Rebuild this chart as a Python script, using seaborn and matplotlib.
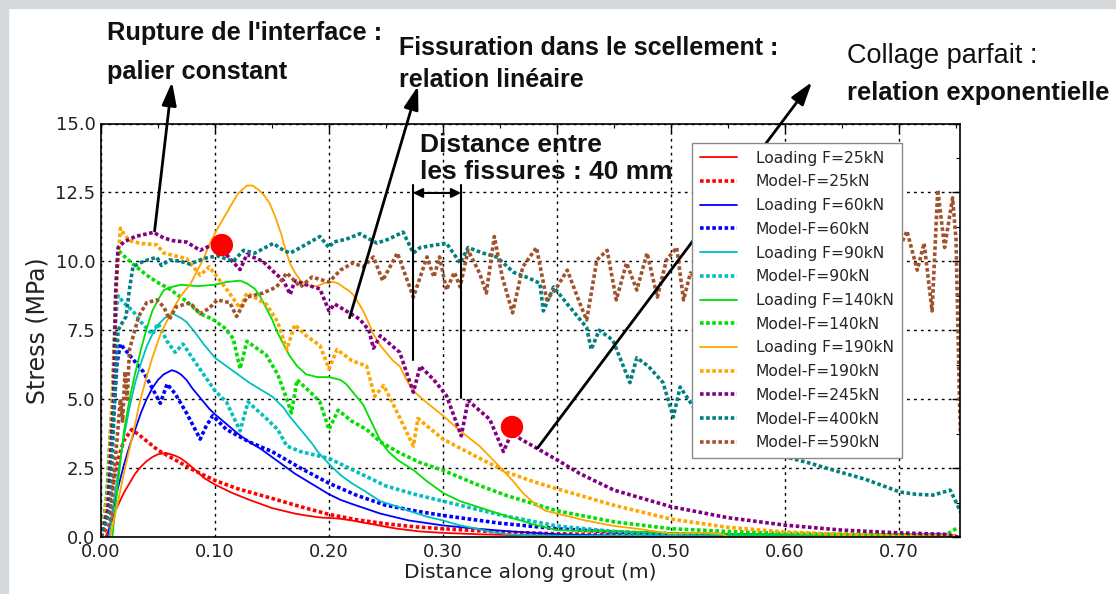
import matplotlib
matplotlib.use("Agg")
import matplotlib.pyplot as plt
import seaborn as sns
import numpy as np
import pandas as pd
from matplotlib.lines import Line2D
from matplotlib.patches import Rectangle
from matplotlib.ticker import MultipleLocator, AutoMinorLocator, FormatStrFormatter

# ---------------- data ----------------
x_L25 = [0.004, 0.008, 0.012, 0.02, 0.03, 0.035, 0.04, 0.045, 0.05, 0.057, 0.065, 0.07, 0.075, 0.085, 0.09, 0.1,
         0.11, 0.115, 0.13, 0.14, 0.15, 0.16, 0.17, 0.18, 0.19, 0.195, 0.205, 0.21, 0.22, 0.23, 0.24, 0.25, 0.26,
         0.28, 0.3, 0.33, 0.36, 0.4, 0.45, 0.5, 0.55, 0.6, 0.65, 0.7, 0.74, 0.752]
y_L25 = [0.0, 0.4, 0.9, 1.6, 2.3, 2.55, 2.75, 2.9, 3.0, 3.05, 2.95, 2.85, 2.7, 2.35, 2.15, 1.9,
         1.7, 1.6, 1.35, 1.2, 1.05, 0.95, 0.85, 0.78, 0.72, 0.7, 0.68, 0.66, 0.6, 0.52, 0.45, 0.37, 0.3,
         0.2, 0.15, 0.1, 0.07, 0.05, 0.04, 0.03, 0.02, 0.02, 0.03, 0.04, 0.05, 0.0]

x_M25 = [0.0, 0.005, 0.01, 0.015, 0.02, 0.027, 0.035, 0.05, 0.065, 0.08, 0.1, 0.12, 0.15, 0.175, 0.2, 0.225, 0.25,
         0.275, 0.3, 0.35, 0.4, 0.45, 0.5, 0.6, 0.7, 0.75]
y_M25 = [0.0, 0.8, 1.8, 2.8, 3.5, 3.9, 3.65, 3.15, 2.8, 2.45, 2.05, 1.75, 1.4, 1.1, 0.82, 0.62, 0.48,
         0.37, 0.3, 0.18, 0.12, 0.08, 0.06, 0.03, 0.02, 0.0]

x_L60 = [0.006, 0.01, 0.015, 0.02, 0.025, 0.03, 0.035, 0.04, 0.045, 0.05, 0.055, 0.062, 0.066, 0.07, 0.075, 0.08,
         0.085, 0.09, 0.095, 0.1, 0.11, 0.12, 0.13, 0.14, 0.15, 0.16, 0.17, 0.18, 0.19, 0.2, 0.21, 0.22,
         0.245, 0.27, 0.3, 0.33, 0.36, 0.4, 0.45, 0.5, 0.55, 0.6, 0.65, 0.7, 0.74, 0.752]
y_L60 = [0.0, 0.9, 1.8, 2.6, 3.3, 3.9, 4.5, 5.0, 5.4, 5.7, 5.9, 6.05, 6.0, 5.9, 5.7, 5.4,
         5.15, 4.9, 4.65, 4.45, 4.1, 3.75, 3.45, 3.2, 2.9, 2.6, 2.3, 2.05, 1.8, 1.55, 1.35, 1.2,
         0.85, 0.6, 0.42, 0.3, 0.2, 0.1, 0.05, 0.04, 0.03, 0.03, 0.04, 0.1, 0.1, 0.0]

x_M60 = [0.0, 0.005, 0.01, 0.014, 0.017, 0.025, 0.037, 0.045, 0.052, 0.058, 0.065, 0.075, 0.087, 0.092, 0.098, 0.11,
         0.13, 0.15, 0.175, 0.2, 0.225, 0.25, 0.275, 0.3, 0.35, 0.4, 0.45, 0.5, 0.55, 0.6, 0.7, 0.75]
y_M60 = [0.0, 1.0, 3.8, 6.3, 7.0, 6.6, 6.0, 5.4, 4.85, 5.55, 5.2, 4.5, 3.55, 4.0, 4.4, 3.9,
         3.45, 3.1, 2.5, 1.95, 1.5, 1.15, 0.95, 0.78, 0.5, 0.3, 0.18, 0.12, 0.08, 0.05, 0.05, 0.0]

x_L90 = [0.007, 0.012, 0.016, 0.02, 0.025, 0.03, 0.035, 0.04, 0.045, 0.05, 0.056, 0.063, 0.07, 0.075, 0.082, 0.09,
         0.095, 0.1, 0.11, 0.12, 0.13, 0.14, 0.15, 0.16, 0.165, 0.175, 0.185, 0.19, 0.2, 0.21, 0.22, 0.23, 0.245,
         0.26, 0.27, 0.285, 0.3, 0.315, 0.33, 0.34, 0.356, 0.38, 0.4, 0.45, 0.5, 0.6, 0.7, 0.75]
y_L90 = [0.0, 1.5, 2.6, 3.6, 4.7, 5.6, 6.3, 6.9, 7.35, 7.7, 7.95, 8.1, 7.95, 7.8, 7.45, 7.0,
         6.75, 6.5, 6.2, 5.9, 5.6, 5.35, 5.1, 4.7, 4.4, 3.9, 3.4, 3.1, 2.65, 2.25, 1.95, 1.7, 1.3,
         1.1, 0.95, 0.75, 0.6, 0.42, 0.3, 0.2, 0.1, 0.05, 0.05, 0.05, 0.05, 0.04, 0.05, 0.0]

x_M90 = [0.0, 0.005, 0.01, 0.013, 0.015, 0.02, 0.028, 0.035, 0.045, 0.05, 0.058, 0.065, 0.072, 0.08, 0.09, 0.1, 0.11,
         0.122, 0.129, 0.145, 0.155, 0.163, 0.175, 0.2, 0.225, 0.25, 0.275, 0.3, 0.33, 0.356, 0.4, 0.45, 0.5, 0.55,
         0.6, 0.7, 0.75]
y_M90 = [0.0, 1.2, 5.0, 8.0, 8.75, 8.5, 8.2, 7.8, 7.35, 7.75, 7.1, 6.7, 7.0, 6.5, 5.9, 5.3, 4.9,
         3.85, 4.9, 4.3, 3.9, 3.3, 3.1, 2.85, 2.35, 1.85, 1.55, 1.3, 1.0, 0.75, 0.4, 0.2, 0.08, 0.05,
         0.04, 0.04, 0.0]

x_L140 = [0.01, 0.015, 0.02, 0.025, 0.03, 0.035, 0.04, 0.045, 0.05, 0.055, 0.06, 0.07, 0.085, 0.1, 0.11, 0.122,
          0.128, 0.135, 0.14, 0.145, 0.15, 0.155, 0.16, 0.165, 0.172, 0.18, 0.19, 0.2, 0.21, 0.215, 0.22, 0.23,
          0.238, 0.245, 0.252, 0.26, 0.275, 0.285, 0.3, 0.315, 0.33, 0.345, 0.36, 0.38, 0.4, 0.45, 0.5, 0.55,
          0.6, 0.7, 0.75]
y_L140 = [0.0, 2.0, 3.8, 5.0, 5.95, 6.8, 7.55, 8.2, 8.6, 8.95, 9.05, 9.15, 9.1, 9.15, 9.25, 9.3,
          9.2, 9.0, 8.7, 8.3, 7.9, 7.4, 7.0, 6.6, 6.2, 5.9, 5.8, 5.8, 5.7, 5.55, 5.3, 4.8,
          4.1, 3.5, 3.1, 2.8, 2.4, 2.05, 1.6, 1.3, 1.1, 0.9, 0.7, 0.45, 0.25, 0.2, 0.15, 0.1,
          0.1, 0.1, 0.05]

x_M140 = [0.0, 0.005, 0.01, 0.013, 0.015, 0.02, 0.028, 0.04, 0.049, 0.06, 0.075, 0.087, 0.098, 0.108, 0.116, 0.122,
          0.128, 0.145, 0.155, 0.163, 0.167, 0.172, 0.185, 0.192, 0.2, 0.208, 0.22, 0.233, 0.245, 0.262, 0.28, 0.3,
          0.33, 0.356, 0.38, 0.4, 0.45, 0.5, 0.55, 0.6, 0.65, 0.7, 0.74, 0.752]
y_M140 = [0.0, 1.5, 5.0, 9.0, 10.4, 10.2, 9.9, 9.5, 9.25, 9.0, 8.55, 8.1, 7.9, 7.6, 7.2, 6.1,
          7.1, 6.6, 5.9, 5.0, 4.5, 5.7, 5.2, 4.9, 3.9, 4.6, 4.2, 3.9, 3.45, 3.05, 2.7, 2.42,
          1.9, 1.5, 1.2, 0.95, 0.55, 0.3, 0.2, 0.13, 0.1, 0.08, 0.05, 0.35]

x_L190 = [0.008, 0.015, 0.02, 0.025, 0.03, 0.034, 0.04, 0.045, 0.05, 0.053, 0.06, 0.065, 0.07, 0.078, 0.085, 0.09,
          0.095, 0.101, 0.108, 0.115, 0.12, 0.128, 0.133, 0.138, 0.143, 0.148, 0.153, 0.158, 0.162, 0.166, 0.17,
          0.175, 0.18, 0.185, 0.19, 0.195, 0.2, 0.204, 0.208, 0.213, 0.217, 0.221, 0.225, 0.23, 0.235, 0.239,
          0.245, 0.25, 0.256, 0.262, 0.268, 0.274, 0.285, 0.3, 0.315, 0.332, 0.345, 0.361, 0.37, 0.382, 0.39,
          0.4, 0.41, 0.425, 0.44, 0.45, 0.47, 0.5, 0.53, 0.545, 0.55, 0.6, 0.7, 0.75]
y_L190 = [0.0, 1.3, 2.3, 3.2, 4.1, 4.9, 5.8, 6.5, 7.1, 7.45, 8.0, 8.4, 8.75, 9.15, 9.7, 10.1,
          10.6, 11.1, 11.6, 12.1, 12.45, 12.75, 12.75, 12.6, 12.4, 12.1, 11.6, 11.0, 10.4, 9.9, 9.6,
          9.3, 9.15, 9.1, 9.1, 9.2, 9.25, 9.25, 9.2, 9.05, 8.95, 8.8, 8.55, 8.2, 7.75, 7.35,
          6.95, 6.7, 6.4, 6.2, 5.7, 5.3, 4.9, 4.4, 3.85, 3.3, 2.75, 2.05, 1.6, 1.15, 0.95,
          0.85, 0.75, 0.6, 0.48, 0.4, 0.3, 0.12, 0.15, 0.1, 0.0, 0.0, 0.0, 0.0]

x_M190 = [0.0, 0.006, 0.011, 0.014, 0.017, 0.02, 0.025, 0.035, 0.049, 0.055, 0.065, 0.075, 0.087, 0.095, 0.11, 0.122,
          0.128, 0.145, 0.155, 0.163, 0.17, 0.18, 0.192, 0.2, 0.207, 0.22, 0.233, 0.24, 0.248, 0.26, 0.274, 0.278,
          0.3, 0.33, 0.356, 0.38, 0.4, 0.45, 0.5, 0.55, 0.6, 0.65, 0.7, 0.75]
y_M190 = [0.0, 1.5, 6.0, 9.5, 11.2, 11.0, 10.75, 10.65, 10.6, 10.3, 10.2, 10.1, 9.5, 9.8, 9.0, 8.3,
          8.85, 8.45, 7.8, 6.8, 7.7, 7.3, 6.95, 6.1, 6.8, 6.4, 6.2, 5.1, 5.5, 4.5, 3.3, 4.3,
          3.55, 2.9, 2.35, 2.0, 1.75, 1.15, 0.65, 0.35, 0.18, 0.1, 0.06, 0.05]

x_M245 = [0.0, 0.006, 0.011, 0.013, 0.015, 0.02, 0.03, 0.046, 0.055, 0.063, 0.075, 0.087, 0.095, 0.105, 0.113, 0.122,
          0.128, 0.142, 0.152, 0.16, 0.166, 0.17, 0.18, 0.192, 0.2, 0.205, 0.215, 0.227, 0.235, 0.239, 0.245, 0.262,
          0.274, 0.28, 0.292, 0.303, 0.316, 0.322, 0.341, 0.353, 0.36, 0.383, 0.4, 0.42, 0.45, 0.5, 0.55, 0.6,
          0.65, 0.7, 0.74, 0.752]
y_M245 = [0.0, 1.0, 5.0, 9.0, 10.5, 10.7, 10.9, 11.05, 10.85, 10.75, 10.7, 10.4, 10.55, 10.5, 10.1, 9.7,
          10.25, 10.0, 9.6, 9.3, 8.8, 9.3, 9.15, 9.0, 8.2, 8.45, 8.2, 7.9, 7.5, 6.85, 7.3, 6.7,
          5.25, 6.2, 5.7, 5.13, 3.67, 4.95, 4.27, 3.1, 3.75, 3.2, 2.8, 2.3, 1.7, 1.1, 0.7, 0.43,
          0.25, 0.15, 0.1, 0.0]

x_M400 = [0.0, 0.008, 0.012, 0.015, 0.019, 0.022, 0.025, 0.028, 0.037, 0.049, 0.053, 0.06, 0.07, 0.078, 0.09, 0.102,
          0.116, 0.125, 0.135, 0.151, 0.16, 0.166, 0.175, 0.192, 0.2, 0.204, 0.215, 0.227, 0.242, 0.252, 0.265,
          0.274, 0.28, 0.303, 0.315, 0.322, 0.335, 0.347, 0.362, 0.375, 0.385, 0.388, 0.397, 0.41, 0.426, 0.43,
          0.437, 0.449, 0.464, 0.47, 0.48, 0.493, 0.502, 0.508, 0.52, 0.54, 0.56, 0.58, 0.604, 0.62, 0.642, 0.67,
          0.701, 0.715, 0.73, 0.745, 0.752, 0.754]
y_M400 = [0.0, 1.0, 5.0, 7.5, 7.8, 8.0, 9.0, 9.8, 10.0, 10.15, 9.85, 10.05, 10.0, 9.9, 10.1, 10.2,
          10.0, 10.4, 10.3, 10.65, 10.4, 10.3, 10.5, 10.9, 10.5, 10.7, 10.8, 11.0, 10.66, 10.8, 11.06,
          10.3, 10.5, 10.66, 9.94, 10.5, 10.3, 10.16, 9.6, 9.4, 9.2, 8.2, 9.07, 8.4, 7.6, 6.8,
          7.5, 7.14, 5.6, 6.5, 6.2, 5.6, 4.35, 5.44, 4.7, 4.2, 3.6, 3.2, 2.87, 2.7, 2.43, 2.1,
          1.63, 1.55, 1.52, 1.7, 1.09, 0.9]

x_M590 = [0.0, 0.008, 0.012, 0.015, 0.017, 0.019, 0.021, 0.023, 0.025, 0.028, 0.033, 0.04, 0.049, 0.055, 0.06, 0.066,
          0.078, 0.087, 0.095, 0.102, 0.113, 0.119, 0.128, 0.142, 0.154, 0.163, 0.175, 0.185, 0.2, 0.21, 0.221, 0.23,
          0.239, 0.247, 0.26, 0.274, 0.286, 0.292, 0.297, 0.303, 0.31, 0.315, 0.322, 0.332, 0.338, 0.345, 0.352,
          0.361, 0.37, 0.382, 0.391, 0.4, 0.409, 0.42, 0.426, 0.435, 0.444, 0.452, 0.461, 0.47, 0.479, 0.488, 0.496,
          0.505, 0.511, 0.517, 0.53, 0.55, 0.57, 0.59, 0.61, 0.63, 0.65, 0.67, 0.69, 0.707, 0.716, 0.722, 0.729,
          0.734, 0.74, 0.747, 0.75, 0.753, 0.754]
y_M590 = [0.0, 0.5, 2.5, 4.0, 5.0, 4.2, 6.0, 5.0, 6.8, 7.25, 8.0, 8.5, 8.6, 8.35, 7.9, 8.35,
          8.5, 8.1, 8.3, 8.6, 8.5, 8.0, 8.7, 8.85, 9.07, 9.58, 9.07, 9.43, 9.25, 9.68, 9.94, 9.8,
          10.16, 9.3, 10.3, 8.7, 10.16, 9.43, 10.16, 8.96, 9.6, 9.07, 10.4, 9.58, 8.85, 10.9, 9.43,
          8.13, 9.8, 10.5, 8.6, 9.07, 9.68, 8.48, 7.87, 10.05, 10.4, 8.6, 9.94, 8.96, 10.3, 8.7, 10.05,
          10.5, 8.6, 9.58, 9.2, 10.0, 8.8, 9.9, 9.0, 10.2, 9.1, 9.8, 9.5, 11.1, 9.68, 10.66, 8.2,
          12.6, 10.5, 12.3, 10.8, 5.0, 3.7]

labels = ["Loading F=25kN", "Model-F=25kN", "Loading F=60kN", "Model-F=60kN", "Loading F=90kN", "Model-F=90kN",
          "Loading F=140kN", "Model-F=140kN", "Loading F=190kN", "Model-F=190kN", "Model-F=245kN",
          "Model-F=400kN", "Model-F=590kN"]
series_x = [x_L25, x_M25, x_L60, x_M60, x_L90, x_M90, x_L140, x_M140, x_L190, x_M190, x_M245, x_M400, x_M590]
series_y = [y_L25, y_M25, y_L60, y_M60, y_L90, y_M90, y_L140, y_M140, y_L190, y_M190, y_M245, y_M400, y_M590]
colors = ["#ff0000", "#ff0000", "#0000ff", "#0000ff", "#00bfbf", "#00bfbf", "#00e000", "#00e000",
          "#ffa500", "#ffa500", "#800080", "#008080", "#a0522d"]

# markers / annotations (data coords)
dots_x = [0.106, 0.3605]
dots_y = [10.59, 3.99]
crack_x = [0.2737, 0.3158]
crack_top = 12.77
crack_bottom = [6.42, 5.04]
crack_arrow_y = 12.48

# ---------------- style ----------------
sns.set_style("white")
plt.rcParams["font.family"] = ["DejaVu Sans"]

W, H = 1116, 594
fig = plt.figure(figsize=(W / 100, H / 100), dpi=100)
fig.patch.set_facecolor("white")
fig.patches.append(Rectangle((0, 1 - 8 / H), 1, 8 / H, transform=fig.transFigure, color="#d5d9dc", zorder=0))
fig.patches.append(Rectangle((0, 0), 8 / W, 1, transform=fig.transFigure, color="#d5d9dc", zorder=0))

ax = fig.add_axes([101 / W, 1 - 537 / H, (960 - 101) / W, (537 - 123.5) / H])

handles = []
for xs, ys, c, lab in zip(series_x, series_y, colors, labels):
    solid = lab.startswith("Loading")
    ls = "-" if solid else (0, (1, 0.7))
    lw = 1.3 if solid else 2.6
    df = pd.DataFrame({"x": xs, "y": ys})
    sns.lineplot(data=df, x="x", y="y", ax=ax, color=c, linestyle=ls, linewidth=lw,
                 sort=False, estimator=None, legend=False)
    handles.append(Line2D([], [], color=c, linestyle=ls, linewidth=lw, label=lab))

sns.scatterplot(x=dots_x, y=dots_y, ax=ax, color="#ff0000", s=260, edgecolor="none", zorder=10, legend=False)

ax.set_xlim(0, 0.7535)
ax.set_ylim(0, 15)
ax.xaxis.set_major_locator(MultipleLocator(0.1))
ax.xaxis.set_minor_locator(AutoMinorLocator(2))
ax.yaxis.set_major_locator(MultipleLocator(2.5))
ax.yaxis.set_minor_locator(AutoMinorLocator(2))
ax.xaxis.set_major_formatter(FormatStrFormatter("%.2f"))
ax.yaxis.set_major_formatter(FormatStrFormatter("%.1f"))
ax.tick_params(which="both", direction="in", top=True, right=True, colors="black", labelcolor="#222222")
ax.tick_params(which="major", length=6, width=1, labelsize=13, pad=4)
ax.tick_params(which="minor", length=3, width=0.8)
ax.grid(True, which="major", color="black", linestyle=(0, (2, 3)), linewidth=1.0)
for s in ax.spines.values():
    s.set_color("black")
    s.set_linewidth(1.2)
ax.set_xlabel("Distance along grout (m)", fontsize=14.5, color="#222222", labelpad=2)
ax.set_ylabel("Stress (MPa)", fontsize=17, color="#222222", labelpad=4)

leg = ax.legend(handles=handles, loc="upper left", bbox_to_anchor=(0.688, 0.953), borderaxespad=0,
                fontsize=11.2, handlelength=2.4, handletextpad=1.2, labelspacing=0.56, borderpad=0.5,
                frameon=True, fancybox=False, framealpha=1, edgecolor="#8a8a8a")
leg.get_frame().set_linewidth(1.0)
leg.set_zorder(20)

# crack spacing dimension
for cx, cb in zip(crack_x, crack_bottom):
    ax.plot([cx, cx], [crack_top, cb], color="black", lw=1.5, zorder=12)
ax.annotate("", xy=(crack_x[0], crack_arrow_y), xytext=(crack_x[1], crack_arrow_y),
            arrowprops=dict(arrowstyle="<|-|>", color="black", lw=1.5, mutation_scale=14,
                            shrinkA=0, shrinkB=0), zorder=12)

# pointer arrows: start on curve (data), tip at figure pixel
arrows = [((0.047, 11.1), (172, H - 82)),
          ((0.218, 7.95), (418, H - 86)),
          ((0.383, 3.23), (812, H - 82))]
for start, tip in arrows:
    ax.annotate("", xy=tip, xycoords="figure pixels", xytext=start, textcoords="data",
                arrowprops=dict(arrowstyle="-|>,head_length=0.7,head_width=0.22", color="black", lw=2.0,
                                mutation_scale=20, shrinkA=0, shrinkB=0), annotation_clip=False, zorder=15)

fam = ["Liberation Sans", "DejaVu Sans"]
def ftext(px, py, s, size, weight="bold"):
    fig.text(px / W, 1 - py / H, s, fontsize=size, fontweight=weight, family=fam,
             ha="left", va="center", color="#111111")

ftext(107, 33, "Rupture de l'interface :", 18.3)
ftext(107, 72, "palier constant", 18.3)
ftext(399, 48, "Fissuration dans le scellement :", 18)
ftext(399, 80, "relation linéaire", 18)
ftext(847, 56, "Collage parfait :", 19.5, weight="normal")
ftext(847, 93, "relation exponentielle", 18.4)
ftext(420, 145, "Distance entre", 19)
ftext(420, 172, "les fissures : 40 mm", 19)

fig.savefig("out.png", dpi=100, facecolor="white")
